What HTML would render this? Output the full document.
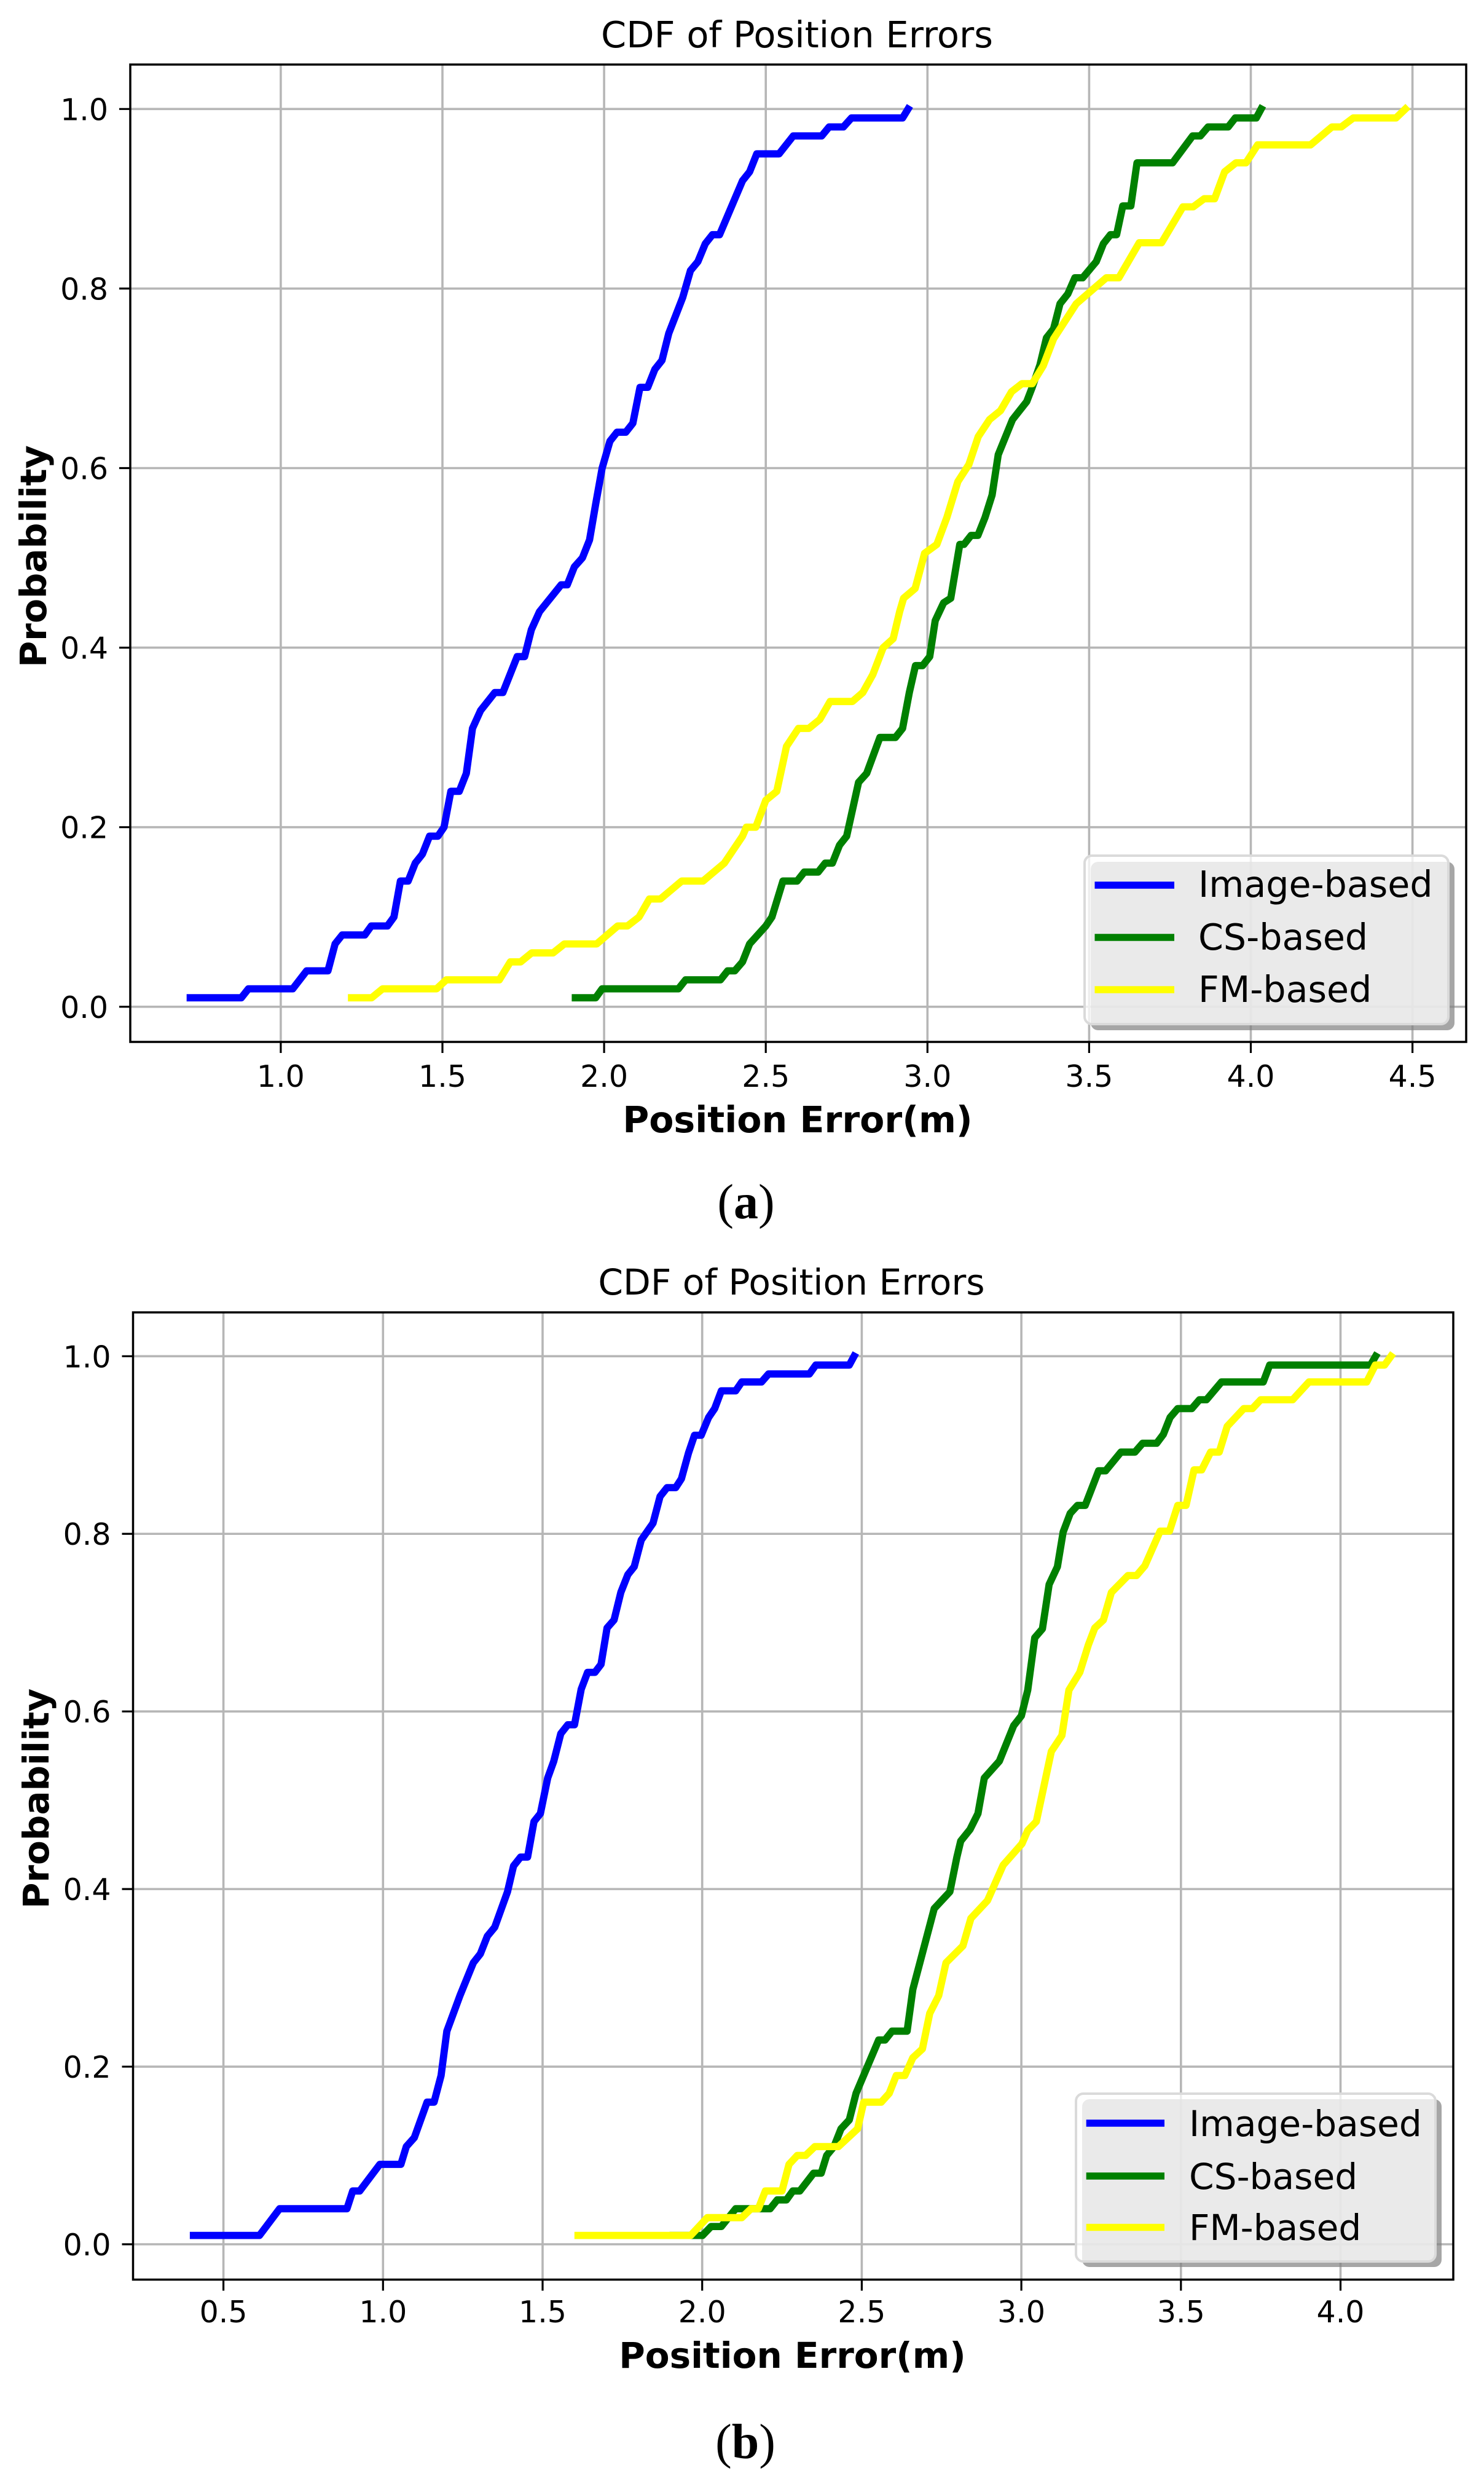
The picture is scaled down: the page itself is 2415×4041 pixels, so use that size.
<!DOCTYPE html>
<html lang="en">
<head>
<meta charset="utf-8">
<title>CDF of Position Errors</title>
<style>
html,body{margin:0;padding:0;background:#fff;}
svg{display:block;}
text{font-family:"DejaVu Sans","Liberation Sans",sans-serif;fill:#000;}
.cap{font-family:"Liberation Serif",serif;font-size:80px;}
</style>
</head>
<body>
<svg xmlns="http://www.w3.org/2000/svg" width="2415" height="4041" viewBox="0 0 2415 4041">
  <rect x="0" y="0" width="2415" height="4041" fill="#fff"/>

  <g id="plot-a"></g>
  <text x="1297" y="77" font-size="59" text-anchor="middle">CDF of Position Errors</text>
  <text x="1298" y="1842" font-size="58.5" font-weight="bold" text-anchor="middle">Position Error(m)</text>
  <text transform="translate(75 905) rotate(-90)" font-size="58.5" font-weight="bold" text-anchor="middle">Probability</text>
  <g>
    <rect x="1775" y="1402" width="592" height="274" rx="12" fill="#808080" opacity="0.7"/>
    <rect x="1765" y="1392" width="592" height="274" rx="12" fill="#fff" fill-opacity="0.77" stroke="#dadada" stroke-width="4"/>
    <line x1="1781.5" x2="1911" y1="1440" y2="1440" stroke="#0000ff" stroke-width="11.5"/>
    <text x="1950" y="1459" font-size="58.6">Image-based</text>
    <line x1="1781.5" x2="1911" y1="1525" y2="1525" stroke="#008000" stroke-width="11.5"/>
    <text x="1950" y="1545" font-size="58.6">CS-based</text>
    <line x1="1781.5" x2="1911" y1="1610" y2="1610" stroke="#ffff00" stroke-width="11.5"/>
    <text x="1950" y="1630" font-size="58.6">FM-based</text>
  </g>
  <text class="cap" x="1214" y="1982" text-anchor="middle">(<tspan font-weight="bold">a</tspan>)</text>

  <g id="plot-b"></g>
  <text x="1288" y="2106" font-size="58.2" text-anchor="middle">CDF of Position Errors</text>
  <text x="1289.5" y="3852" font-size="58" font-weight="bold" text-anchor="middle">Position Error(m)</text>
  <text transform="translate(79 2926) rotate(-90)" font-size="58" font-weight="bold" text-anchor="middle">Probability</text>
  <g>
    <rect x="1761" y="3415" width="585" height="273" rx="12" fill="#808080" opacity="0.7"/>
    <rect x="1751" y="3406" width="585" height="273" rx="12" fill="#fff" fill-opacity="0.77" stroke="#dadada" stroke-width="4"/>
    <line x1="1767.7" x2="1895" y1="3454" y2="3454" stroke="#0000ff" stroke-width="11.5"/>
    <text x="1935" y="3475" font-size="58.2">Image-based</text>
    <line x1="1767.7" x2="1895" y1="3540" y2="3540" stroke="#008000" stroke-width="11.5"/>
    <text x="1935" y="3561" font-size="58.2">CS-based</text>
    <line x1="1767.7" x2="1895" y1="3623.5" y2="3623.5" stroke="#ffff00" stroke-width="11.5"/>
    <text x="1935" y="3644" font-size="58.2">FM-based</text>
  </g>
  <text class="cap" x="1213" y="3999" text-anchor="middle">(<tspan font-weight="bold">b</tspan>)</text>
</svg>

<script>
// ---- Tick labels ----
const xTicksA = ["1.0","1.5","2.0","2.5","3.0","3.5","4.0","4.5"];
const xTicksB = ["0.5","1.0","1.5","2.0","2.5","3.0","3.5","4.0"];
const yTicks = ["0.0","0.2","0.4","0.6","0.8","1.0"];

// ---- Chart (a) series: [position error, probability] ----
const imageA = [[.72,.01],[.878,.01],[.90,.02],[1.037,.02],[1.08,.04],[1.146,.04],[1.168,.07],[1.19,.08],[1.26,.08],[1.28,.09],[1.33,.09],[1.35,.10],[1.37,.14],[1.394,.14],[1.416,.16],[1.438,.17],[1.46,.19],[1.486,.19],[1.505,.20],[1.526,.24],[1.552,.24],[1.574,.26],[1.593,.31],[1.618,.33],[1.64,.34],[1.662,.35],[1.687,.35],[1.731,.39],[1.754,.39],[1.775,.42],[1.80,.44],[1.867,.47],[1.886,.47],[1.908,.49],[1.933,.50],[1.955,.52],[1.974,.56],[1.994,.60],[2.018,.63],[2.04,.64],[2.067,.64],[2.089,.65],[2.111,.69],[2.135,.69],[2.157,.71],[2.179,.72],[2.20,.75],[2.243,.79],[2.267,.82],[2.29,.83],[2.313,.85],[2.335,.86],[2.357,.86],[2.428,.92],[2.45,.93],[2.472,.95],[2.541,.95],[2.585,.97],[2.673,.97],[2.696,.98],[2.74,.98],[2.765,.99],[2.923,.99],[2.94,1.0]];
const csA = [[1.911,.01],[1.974,.01],[1.994,.02],[2.23,.02],[2.252,.03],[2.36,.03],[2.382,.04],[2.404,.04],[2.428,.05],[2.45,.07],[2.5,.09],[2.519,.10],[2.553,.14],[2.597,.14],[2.619,.15],[2.662,.15],[2.684,.16],[2.706,.16],[2.728,.18],[2.75,.19],[2.787,.25],[2.812,.26],[2.853,.30],[2.901,.30],[2.923,.31],[2.944,.35],[2.963,.38],[2.985,.38],[3.007,.39],[3.024,.43],[3.05,.45],[3.072,.455],[3.10,.515],[3.113,.515],[3.135,.525],[3.156,.525],[3.178,.545],[3.2,.57],[3.219,.615],[3.263,.654],[3.307,.674],[3.324,.69],[3.348,.715],[3.368,.745],[3.39,.755],[3.41,.783],[3.434,.794],[3.456,.812],[3.48,.812],[3.522,.83],[3.544,.85],[3.566,.86],[3.585,.86],[3.604,.892],[3.629,.892],[3.648,.94],[3.758,.94],[3.82,.97],[3.844,.97],[3.868,.98],[3.93,.98],[3.952,.99],[4.017,.99],[4.032,1.0]];
const fmA = [[1.219,.01],[1.281,.01],[1.315,.02],[1.482,.02],[1.512,.03],[1.676,.03],[1.71,.05],[1.742,.05],[1.776,.06],[1.842,.06],[1.877,.07],[1.977,.07],[2.042,.09],[2.072,.09],[2.108,.10],[2.14,.12],[2.174,.12],[2.24,.14],[2.306,.14],[2.372,.16],[2.428,.19],[2.44,.20],[2.469,.20],[2.5,.23],[2.534,.24],[2.564,.29],[2.601,.31],[2.633,.31],[2.667,.32],[2.699,.34],[2.768,.34],[2.80,.35],[2.831,.37],[2.863,.40],[2.894,.41],[2.914,.44],[2.926,.455],[2.962,.466],[2.991,.505],[3.029,.515],[3.06,.545],[3.094,.585],[3.128,.604],[3.157,.635],[3.192,.654],[3.226,.664],[3.26,.685],[3.292,.694],[3.324,.694],[3.358,.714],[3.39,.744],[3.46,.783],[3.553,.812],[3.592,.812],[3.655,.851],[3.724,.851],[3.79,.891],[3.822,.891],[3.856,.90],[3.888,.90],[3.919,.93],[3.954,.94],[3.985,.94],[4.021,.96],[4.185,.96],[4.251,.98],[4.28,.98],[4.317,.99],[4.449,.99],[4.478,1.0]];

// ---- Chart (b) series: [position error, probability] ----
const imageB = [[.406,.01],[.613,.01],[.676,.04],[.887,.04],[.905,.06],[.927,.06],[.99,.09],[1.056,.09],[1.073,.11],[1.098,.12],[1.138,.16],[1.16,.16],[1.182,.19],[1.20,.24],[1.241,.28],[1.283,.317],[1.305,.327],[1.327,.347],[1.35,.357],[1.39,.397],[1.409,.426],[1.431,.436],[1.453,.436],[1.473,.476],[1.493,.485],[1.516,.525],[1.535,.544],[1.557,.575],[1.579,.585],[1.60,.585],[1.621,.625],[1.641,.644],[1.664,.644],[1.683,.653],[1.702,.694],[1.724,.703],[1.745,.734],[1.767,.754],[1.787,.763],[1.809,.793],[1.846,.812],[1.868,.842],[1.89,.852],[1.917,.852],[1.935,.862],[1.957,.891],[1.976,.911],[1.997,.911],[2.02,.931],[2.039,.941],[2.06,.961],[2.105,.961],[2.124,.971],[2.186,.971],[2.208,.98],[2.336,.98],[2.356,.99],[2.461,.99],[2.476,1.0]];
const csB = [[1.909,.01],[2.001,.01],[2.028,.02],[2.06,.02],[2.105,.04],[2.213,.04],[2.235,.05],[2.264,.05],[2.284,.06],[2.306,.06],[2.349,.08],[2.373,.08],[2.39,.10],[2.413,.11],[2.435,.13],[2.461,.14],[2.482,.17],[2.553,.23],[2.573,.23],[2.595,.24],[2.642,.24],[2.66,.287],[2.727,.378],[2.776,.397],[2.798,.436],[2.81,.454],[2.839,.467],[2.864,.485],[2.884,.525],[2.931,.544],[2.976,.584],[3.0,.595],[3.02,.624],[3.042,.683],[3.066,.693],[3.087,.743],[3.113,.763],[3.131,.802],[3.153,.823],[3.176,.832],[3.2,.832],[3.242,.871],[3.264,.871],[3.312,.892],[3.356,.892],[3.38,.902],[3.424,.902],[3.445,.912],[3.466,.931],[3.49,.941],[3.534,.941],[3.558,.951],[3.58,.951],[3.627,.971],[3.758,.971],[3.778,.99],[4.094,.99],[4.11,1.0]];
const fmB = [[1.611,.01],[1.964,.01],[2.016,.03],[2.124,.03],[2.153,.04],[2.176,.04],[2.198,.06],[2.25,.06],[2.272,.09],[2.298,.10],[2.324,.10],[2.353,.11],[2.427,.11],[2.487,.13],[2.506,.16],[2.561,.16],[2.586,.17],[2.608,.19],[2.635,.19],[2.66,.21],[2.69,.22],[2.713,.26],[2.741,.28],[2.764,.317],[2.817,.336],[2.842,.367],[2.894,.387],[2.943,.427],[3.002,.451],[3.02,.466],[3.047,.476],[3.094,.555],[3.127,.573],[3.149,.624],[3.183,.644],[3.21,.675],[3.23,.694],[3.257,.703],[3.282,.734],[3.334,.753],[3.361,.753],[3.387,.764],[3.435,.803],[3.464,.803],[3.49,.832],[3.516,.832],[3.541,.872],[3.565,.872],[3.593,.892],[3.62,.892],[3.645,.921],[3.697,.941],[3.724,.941],[3.75,.951],[3.85,.951],[3.901,.971],[4.082,.971],[4.109,.99],[4.138,.99],[4.158,1.0]];

const SVG_NS = "http://www.w3.org/2000/svg";

function make(parent, tag, attrs) {
  const el = document.createElementNS(SVG_NS, tag);
  for (const k in attrs) el.setAttribute(k, attrs[k]);
  parent.appendChild(el);
  return el;
}

function drawChart(id, box, xLabels, series) {
  const root = document.getElementById(id);
  const xScale = v => box.xAt1 + (v - 1) * box.xUnit;
  const yScale = v => box.yAt0 - v * box.yUnit;

  // grid lines and tick marks
  xLabels.forEach(label => {
    const px = xScale(parseFloat(label));
    const grid = make(root, "line", {x1: px, x2: px, y1: box.top, y2: box.bottom, stroke: "#b6b6b6", "stroke-width": 3.6});
    
    
    const tick = make(root, "line", {x1: px, x2: px, y1: box.bottom, y2: box.bottom + 18, stroke: "#000", "stroke-width": 3.2});
    
    
    const text = make(root, "text", {x: px, y: box.xLabelY, "font-size": 49, "text-anchor": "middle"});
    
    
    text.textContent = label;
  });
  yTicks.forEach(label => {
    const py = yScale(parseFloat(label));
    const grid = make(root, "line", {x1: box.left, x2: box.right, y1: py, y2: py, stroke: "#b6b6b6", "stroke-width": 3.6});
    
    
    const tick = make(root, "line", {x1: box.left - 18, x2: box.left, y1: py, y2: py, stroke: "#000", "stroke-width": 3.2});
    
    
    const text = make(root, "text", {x: box.left - 36, y: py + 18, "font-size": 49, "text-anchor": "end"});
    
    
    text.textContent = label;
  });

  // series polylines
  series.forEach(s => {
    const pts = s.values.map(p => xScale(p[0]).toFixed(1) + "," + yScale(p[1]).toFixed(1)).join(" ");
    const line = make(root, "polyline", {points: pts, fill: "none", stroke: s.color, "stroke-width": 11.8, "stroke-linejoin": "round", "stroke-linecap": "square"});
    
    
  });

  // frame
  const frame = make(root, "rect", {x: box.left, y: box.top, width: box.right - box.left, height: box.bottom - box.top, fill: "none", stroke: "#000", "stroke-width": 3.5});
  
  
}

drawChart("plot-a",
  {left: 212, right: 2386, top: 105, bottom: 1695, xAt1: 456.9, xUnit: 526.2, yAt0: 1637.8, yUnit: 1460.5, xLabelY: 1768},
  xTicksA,
  [
    {values: imageA, color: "#0000ff", name: "image-based-line-a"},
    {values: csA, color: "#008000", name: "cs-based-line-a"},
    {values: fmA, color: "#ffff00", name: "fm-based-line-a"}
  ]);

drawChart("plot-b",
  {left: 216.5, right: 2365, top: 2135, bottom: 3708.5, xAt1: 623.3, xUnit: 519.4, yAt0: 3651, yUnit: 1444.7, xLabelY: 3778},
  xTicksB,
  [
    {values: imageB, color: "#0000ff", name: "image-based-line-b"},
    {values: csB, color: "#008000", name: "cs-based-line-b"},
    {values: fmB, color: "#ffff00", name: "fm-based-line-b"}
  ]);
</script>
</body>
</html>
